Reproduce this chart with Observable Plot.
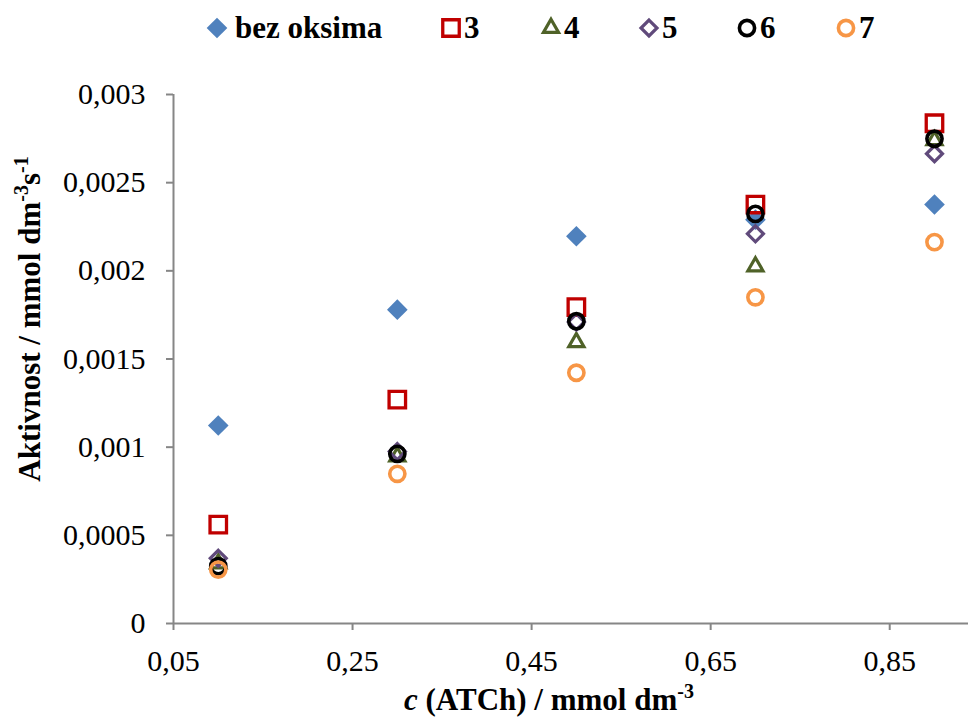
<!DOCTYPE html>
<html>
<head>
<meta charset="utf-8">
<script src="https://cdn.jsdelivr.net/npm/d3@7"></script>
<script src="https://cdn.jsdelivr.net/npm/@observablehq/plot@0.6"></script>
<style>
  body { margin: 0; background: #fff; font-family: 'Liberation Serif', serif; }
  #legend, #chart { width: 969px; }
  #legend svg, #chart svg { display: block; }
  #legend svg, #chart svg, #legend text, #chart text, #chart tspan { font-family: 'Liberation Serif', serif !important; }
</style>
</head>
<body>
<div id="legend"></div>
<div id="chart"></div>
<script>
// ---- data ----
const concentrations = [0.1, 0.3, 0.5, 0.7, 0.9];
const seriesNames = ["bez oksima", "3", "4", "5", "6", "7"];
const bezOksima = [0.001123, 0.00178, 0.002196, 0.00229, 0.002376];
const oksim3 = [0.000561, 0.00127, 0.001794, 0.002376, 0.002837];
const oksim4 = [0.00034, 0.000947, 0.001595, 0.002025, 0.00274];
const oksim5 = [0.00037, 0.000975, 0.00171, 0.00221, 0.002664];
const oksim6 = [0.000325, 0.000962, 0.001714, 0.002323, 0.002749];
const oksim7 = [0.000306, 0.000849, 0.001422, 0.00185, 0.002163];
const xTicks = [0.05, 0.25, 0.45, 0.65, 0.85];
const yTicks = [0, 0.0005, 0.001, 0.0015, 0.002, 0.0025, 0.003];

// ---- styling ----
const seriesValues = [bezOksima, oksim3, oksim4, oksim5, oksim6, oksim7];
const styles = [
  {symbol: "diamond2", color: "#4F81BD", filled: true, r: 9.3},
  {symbol: "square", color: "#C00000", filled: false, r: 9.3, sw: 3.3},
  {symbol: "triangle2", color: "#4F6228", filled: false, r: 7.2, sw: 3.2},
  {symbol: "diamond2", color: "#604A7B", filled: false, r: 7.2, sw: 3.2},
  {symbol: "circle", color: "#000000", filled: false, r: 7.6, sw: 3.6},
  {symbol: "circle", color: "#F79646", filled: false, r: 7.6, sw: 3.6}
];
const d3Symbols = {diamond2: d3.symbolDiamond2, square: d3.symbolSquare, triangle2: d3.symbolTriangle2, circle: d3.symbolCircle};

const tables = seriesValues.map((vals, i) =>
  concentrations.map((c, j) => ({x: c, y: vals[j], series: seriesNames[i]})));

const axisGray = "#868686";
const serif = "'Liberation Serif', serif";
const commaFmt = d => d === 0 ? "0" : String(d).replace(".", ",");
const xFmt = d => d3.format(".2f")(d).replace(".", ",");

const dots = tables.map((t, i) => {
  const s = styles[i];
  return Plot.dot(t, {
    x: "x", y: "y", symbol: s.symbol, r: s.r,
    fill: s.filled ? s.color : "none",
    stroke: s.filled ? "none" : s.color,
    strokeWidth: s.sw || 0
  });
});

const chart = Plot.plot({
  width: 969,
  height: 660,
  marginTop: 34,
  marginBottom: 97,
  marginLeft: 173,
  marginRight: 1,
  style: {fontFamily: serif, fontSize: "30px", color: "#000", background: "#fff"},
  x: {domain: [0.05, 0.938]},
  y: {domain: [0, 0.003]},
  marks: [
    Plot.axisX({ticks: xTicks, tickFormat: xFmt, tickSize: 7, tickPadding: 19, stroke: axisGray, strokeWidth: 2, fill: "#000", label: null, fontSize: 30, fontFamily: serif}),
    Plot.axisY({ticks: yTicks, tickFormat: commaFmt, tickSize: 7, tickPadding: 21, stroke: axisGray, strokeWidth: 2, fill: "#000", label: null, fontSize: 30, fontFamily: serif}),
    Plot.ruleY([0], {stroke: axisGray, strokeWidth: 2}),
    Plot.ruleX([0.05], {stroke: axisGray, strokeWidth: 2}),
    ...dots
  ]
});
document.getElementById("chart").appendChild(chart);

// axis titles with superscripts
const svg = d3.select(chart);
const xt = svg.append("text")
  .attr("x", 549).attr("y", 650)
  .attr("text-anchor", "middle").attr("font-family", serif)
  .attr("font-weight", "bold").attr("font-size", 31).attr("fill", "#000");
xt.append("tspan").attr("font-style", "italic").text("c");
xt.append("tspan").text(" (ATCh) / mmol dm");
xt.append("tspan").attr("dy", -12).attr("font-size", 20).text("-3");

const yt = svg.append("text")
  .attr("transform", "translate(40,259) rotate(-90)")
  .attr("text-anchor", "middle").attr("font-family", serif)
  .attr("font-weight", "bold").attr("font-size", 31).attr("fill", "#000");
yt.append("tspan").text("Aktivnost / mmol dm");
yt.append("tspan").attr("dy", -12).attr("font-size", 20).text("-3");
yt.append("tspan").attr("dy", 12).text("s");
yt.append("tspan").attr("dy", -12).attr("font-size", 20).text("-1");

// legend
const legendX = [217, 451, 551, 649, 747, 846];
const lsvg = d3.select("#legend").append("svg").attr("width", 969).attr("height", 60);
seriesNames.forEach((name, i) => {
  const s = styles[i];
  const size = Math.PI * s.r * s.r;
  lsvg.append("path")
    .attr("d", d3.symbol(d3Symbols[s.symbol], size)())
    .attr("transform", `translate(${legendX[i]},28)`)
    .attr("fill", s.filled ? s.color : "none")
    .attr("stroke", s.filled ? "none" : s.color)
    .attr("stroke-width", s.sw || 0);
  lsvg.append("text")
    .attr("x", legendX[i] + (i === 0 ? 18 : 13)).attr("y", 38)
    .attr("font-family", serif)
    .attr("font-weight", "bold").attr("font-size", 31)
    .text(name);
});
</script>
</body>
</html>
